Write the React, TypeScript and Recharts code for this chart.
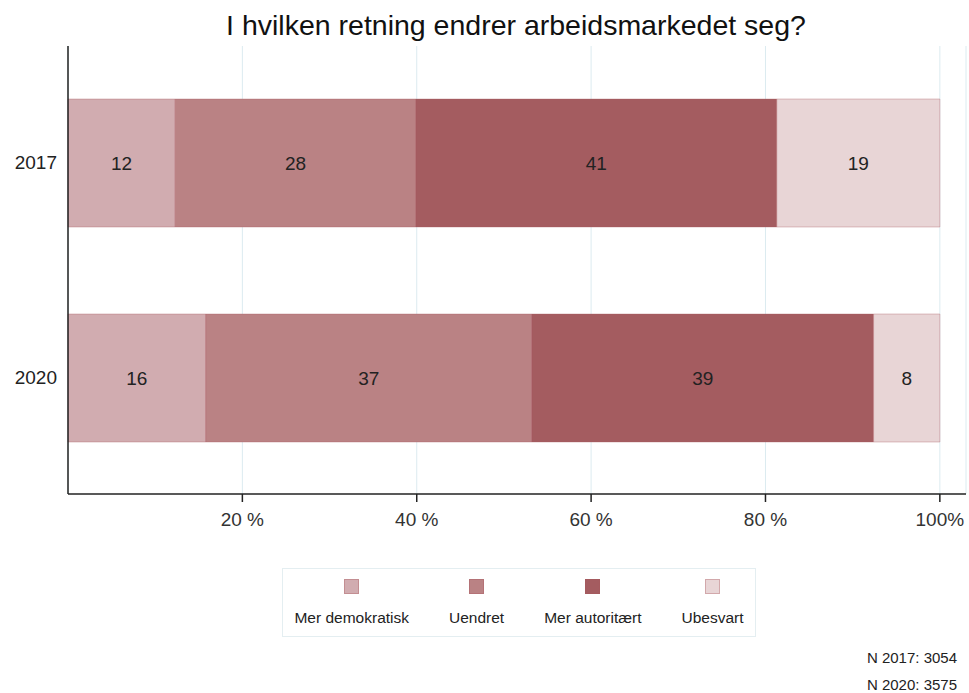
import React from "react";
import { BarChart, Bar, XAxis, YAxis, CartesianGrid, LabelList, Legend } from "recharts";

const years = ["2017", "2020"];
const merDemokratisk = [12.3, 15.8];
const uendret = [27.6, 37.4];
const merAutoritaert = [41.4, 39.2];
const ubesvart = [18.7, 7.6];
const xTicks = [20, 40, 60, 80, 100];
const xTickLabels = ["20 %", "40 %", "60 %", "80 %", "100%"];
const seriesNames = ["Mer demokratisk", "Uendret", "Mer autoritært", "Ubesvart"];
const seriesColors = ["#d1acb0", "#ba8284", "#a45c60", "#e8d5d6"];
const nLabels = ["N 2017: 3054", "N 2020: 3575"];

const data = years.map((y, i) => ({
  year: y,
  s0: merDemokratisk[i],
  s1: uendret[i],
  s2: merAutoritaert[i],
  s3: ubesvart[i],
}));

const FONT = "'Liberation Sans', Arial, sans-serif";

const LegendBox = (props: any) => {
  const payload = [...(props.payload || [])].sort(
    (a: any, b: any) => seriesNames.indexOf(a.value) - seriesNames.indexOf(b.value)
  );
  return (
    <div
      style={{
        width: 474,
        height: 69,
        boxSizing: "border-box",
        border: "1px solid #e4eef1",
        display: "flex",
        justifyContent: "center",
        gap: 40,
        fontFamily: FONT,
        fontSize: 15.5,
        color: "#222",
      }}
    >
      {payload.map((p: any, i: number) => (
        <div
          key={i}
          style={{
            display: "flex",
            flexDirection: "column",
            alignItems: "center",
            paddingTop: 10,
          }}
        >
          <div
            style={{
              width: 15,
              height: 15,
              background: p.color,
              border: "1px solid rgba(168,86,92,0.35)",
              boxSizing: "border-box",
            }}
          />
          <div style={{ marginTop: 15, whiteSpace: "nowrap", lineHeight: "18px" }}>{p.value}</div>
        </div>
      ))}
    </div>
  );
};

export default function App() {
  const keys = ["s0", "s1", "s2", "s3"];
  return (
    <div style={{ position: "absolute", left: 0, top: 0, width: 969, height: 693, background: "#fff" }}>
      <div
        style={{
          position: "absolute",
          left: 0,
          width: 1032,
          top: 8,
          textAlign: "center",
          fontFamily: FONT,
          fontSize: 28.5,
          lineHeight: "34px",
          color: "#111",
        }}
      >
        I hvilken retning endrer arbeidsmarkedet seg?
      </div>
      <BarChart
        width={969}
        height={693}
        data={data}
        layout="vertical"
        margin={{ top: 46, right: 3, bottom: 169, left: 0 }}
        barSize={128}
      >
        <CartesianGrid horizontal={false} vertical={true} stroke="#dcebf0" />
        <XAxis
          type="number"
          domain={[0, 103]}
          ticks={xTicks}
          tickFormatter={(v: number) => xTickLabels[xTicks.indexOf(v)]}
          height={30}
          axisLine={{ stroke: "#222", strokeWidth: 1.5 }}
          tickLine={{ stroke: "#222", strokeWidth: 1.5 }}
          tickSize={8}
          tickMargin={11}
          tick={{ fill: "#333", fontSize: 19, fontFamily: FONT }}
        />
        <YAxis
          type="category"
          dataKey="year"
          width={68}
          padding={{ top: 9, bottom: 9 }}
          axisLine={{ stroke: "#222", strokeWidth: 1.5 }}
          tickLine={false}
          tickMargin={5}
          tick={{ fill: "#222", fontSize: 19, fontFamily: FONT }}
        />
        <Legend
          layout="horizontal"
          verticalAlign="middle"
          align="center"
          content={<LegendBox />}
          wrapperStyle={{ position: "absolute", left: 282, top: 568, width: 474, height: 69 }}
        />
        {keys.map((k, i) => (
          <Bar
            key={k}
            dataKey={k}
            name={seriesNames[i]}
            stackId="a"
            fill={seriesColors[i]}
            stroke="rgba(168,86,92,0.35)"
            strokeWidth={1}
            isAnimationActive={false}
          >
            <LabelList
              dataKey={k}
              position="center"
              formatter={(v: any) => Math.round(Number(v))}
              style={{ fill: "#222", fontSize: 19, fontFamily: FONT }}
            />
          </Bar>
        ))}
      </BarChart>
      <div
        style={{
          position: "absolute",
          right: 12,
          top: 644,
          textAlign: "right",
          fontFamily: FONT,
          fontSize: 15,
          color: "#222",
          lineHeight: "27px",
        }}
      >
        <div>{nLabels[0]}</div>
        <div>{nLabels[1]}</div>
      </div>
    </div>
  );
}
